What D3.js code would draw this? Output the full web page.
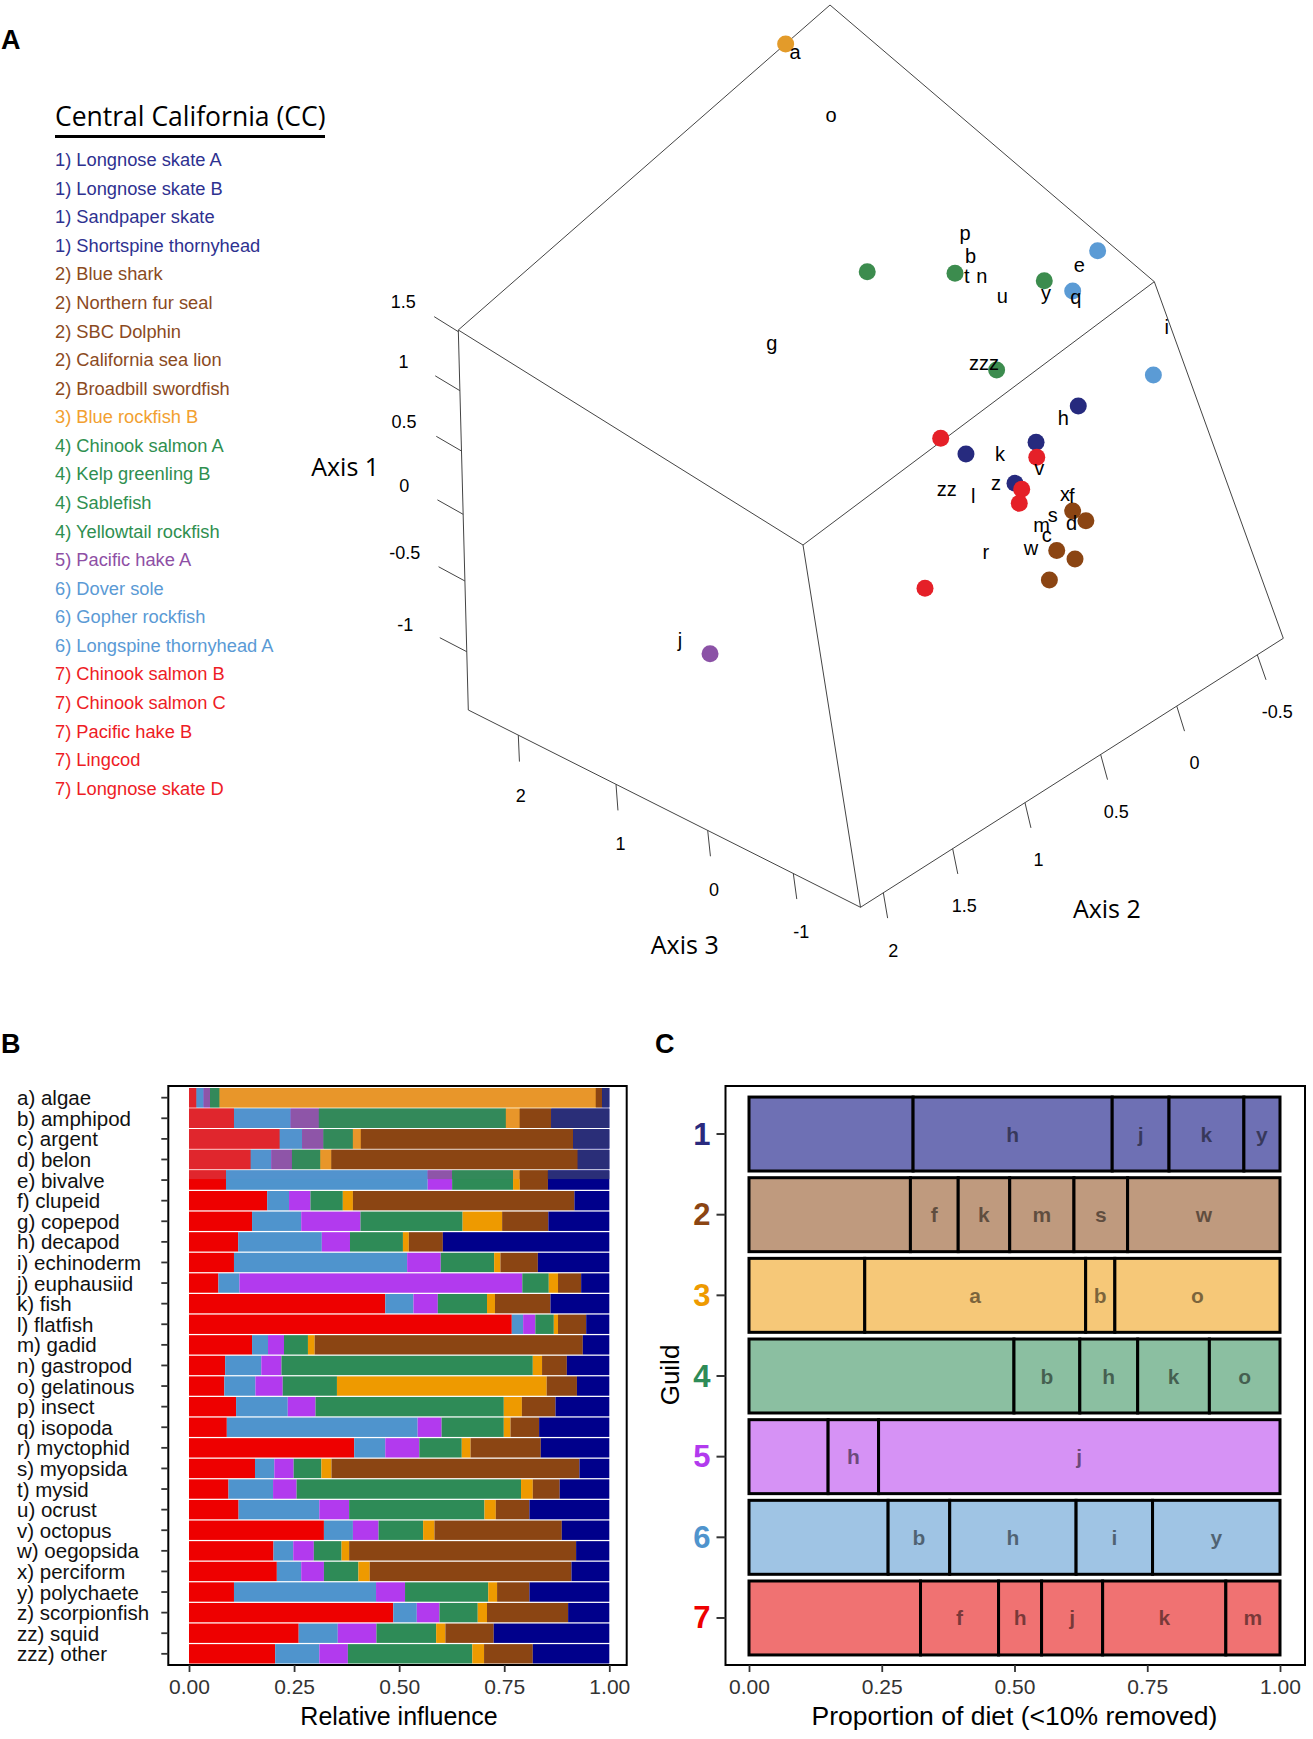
<!DOCTYPE html>
<html><head><meta charset="utf-8">
<script src="https://cdn.jsdelivr.net/npm/d3@7"></script>
<style>body{margin:0;background:#fff}svg{display:block}</style>
</head><body>
<svg id="c" width="1313" height="1739"></svg>
<script>
// ================= DATA =================
const preyCodes = ['a','b','c','d','e','f','g','h','i','j','k','l','m','n','o','p','q','r','s','t','u','v','w','x','y','z','zz','zzz'];
const preyNames = ['algae','amphipod','argent','belon','bivalve','clupeid','copepod','decapod','echinoderm','euphausiid','fish','flatfish','gadid','gastropod','gelatinous','insect','isopoda','myctophid','myopsida','mysid','ocrust','octopus','oegopsida','perciform','polychaete','scorpionfish','squid','other'];

// Panel B: relative influence of each prey, by guild (series)
const guild7Influence = [.018,.107,.216,.147,.088,.186,.150,.117,.107,.070,.467,.768,.150,.086,.084,.112,.090,.393,.157,.094,.118,.321,.201,.209,.107,.486,.261,.205];
const guild6Influence = [.017,.135,.053,.049,.480,.052,.117,.199,.412,.050,.067,.027,.038,.086,.074,.123,.454,.074,.046,.106,.192,.069,.047,.058,.338,.056,.093,.105];
const guild5Influence = [.015,.067,.051,.049,.058,.051,.141,.067,.080,.673,.058,.029,.038,.048,.065,.066,.057,.081,.046,.056,.071,.061,.049,.054,.069,.054,.092,.068];
const guild4Influence = [.023,.445,.070,.068,.145,.077,.243,.126,.127,.063,.117,.044,.057,.598,.129,.448,.148,.101,.066,.534,.322,.106,.066,.082,.198,.091,.142,.296];
const guild3Influence = [.895,.033,.019,.026,.016,.024,.094,.014,.015,.022,.019,.010,.016,.022,.499,.043,.016,.021,.024,.028,.027,.027,.018,.027,.021,.022,.022,.028];
const guild2Influence = [.015,.075,.505,.586,.067,.527,.110,.081,.089,.055,.132,.067,.638,.059,.072,.080,.068,.167,.590,.064,.080,.303,.540,.480,.077,.193,.115,.116];
const guild1Influence = [.017,.138,.086,.075,.146,.083,.145,.396,.170,.067,.140,.055,.063,.101,.077,.128,.167,.163,.071,.118,.190,.113,.079,.090,.190,.098,.275,.182];
const mutedShare = [1,1,1,1,.45,0,0,0,0,0,0,0,0,0,0,0,0,0,0,0,0,0,0,0,0,0,0,0];
const bTicks = [0,.25,.5,.75,1];

// Panel C: proportion of diet per guild
const guildIds = [1,2,3,4,5,6,7];
const guildSegLabels = [['','h','j','k','y'],['','f','k','m','s','w'],['','a','b','o'],['','b','h','k','o'],['','h','j'],['','b','h','i','y'],['','f','h','j','k','m']];
const guildSegProps  = [[.309,.375,.107,.141,.068],[.304,.090,.097,.121,.101,.287],[.218,.416,.055,.311],[.499,.124,.109,.135,.133],[.149,.095,.756],[.262,.116,.238,.144,.240],[.323,.147,.081,.115,.232,.102]];

// Panel A: predators (ordination scores on axes 1-3)
const predatorNames = ['1) Longnose skate A','1) Longnose skate B','1) Sandpaper skate','1) Shortspine thornyhead','2) Blue shark','2) Northern fur seal','2) SBC Dolphin','2) California sea lion','2) Broadbill swordfish','3) Blue rockfish B','4) Chinook salmon A','4) Kelp greenling B','4) Sablefish','4) Yellowtail rockfish','5) Pacific hake A','6) Dover sole','6) Gopher rockfish','6) Longspine thornyhead A','7) Chinook salmon B','7) Chinook salmon C','7) Pacific hake B','7) Lingcod','7) Longnose skate D'];
const predatorGuild = [1,1,1,1,2,2,2,2,2,3,4,4,4,4,5,6,6,6,7,7,7,7,7];
const predAxis1 = [0.198,-0.126,-0.149,-0.353,-0.566,-0.652,-0.681,-0.749,-0.739,1.513,0.464,0.603,0.960,0.292,-0.714,1.408,1.030,0.602,-0.034,-0.284,-0.390,-0.438,-0.494];
const predAxis2 = [-0.315,0.142,-0.160,0.001,-0.161,-0.202,0.017,-0.038,0.156,-0.348,-0.089,-0.316,-0.454,-0.159,1.654,-0.620,-0.484,-0.561,0.200,-0.157,-0.011,0.041,0.752];
const predAxis3 = [-0.731,0.002,-0.319,-0.273,-0.594,-0.639,-0.685,-0.777,-0.823,2.490,1.388,0.686,-0.365,0.002,0.643,-1.006,-0.731,-1.497,0.173,-0.273,-0.319,-0.365,-0.456];
// prey scores (labels a..zzz)
const preyAxis1 = [1.437,0.753,-0.602,-0.603,1.219,-0.532,0.463,0.083,1.091,-0.740,-0.222,-0.306,-0.550,0.700,1.110,0.871,1.005,-0.503,-0.535,0.670,0.707,-0.368,-0.617,-0.522,0.903,-0.292,-0.200,0.261];
const preyAxis2 = [-0.379,-0.385,0.016,-0.122,-0.556,-0.210,0.562,-0.256,-0.651,1.656,-0.023,0.230,0.013,-0.357,-0.368,-0.418,-0.477,0.359,-0.063,-0.317,-0.336,-0.154,0.127,-0.192,-0.429,0.094,0.342,-0.161];
const preyAxis3 = [2.452,0.558,-0.594,-0.639,-0.777,-0.502,1.428,-0.594,-1.791,0.985,-0.090,-0.181,-0.548,0.387,2.106,0.643,-0.777,-0.502,-0.548,0.515,0.087,-0.273,-0.594,-0.456,-0.410,-0.227,-0.090,0.173];
const axis1Ticks=[-1,-0.5,0,0.5,1,1.5], axis2Ticks=[2,1.5,1,0.5,0,-0.5], axis3Ticks=[2,1,0,-1];

// ================= STYLE =================
const FONT="'Liberation Sans', Arial, Helvetica, sans-serif";
const TF="'Open Sans', 'DejaVu Sans', sans-serif";
const barColors = {g7:'#EE0000',g6:'#4F94CD',g5:'#B23AEE',g4:'#2E8B57',g3:'#EE9A00',g2:'#8B4513',g1:'#00008B'};
const mutedColors = {g7:'#E0262D',g6:'#5293CE',g5:'#8E55A8',g4:'#33895A',g3:'#E8962A',g2:'#8B4513',g1:'#2A2E78'};
const guildLight = {1:'#6E70B4',2:'#BF9A7E',3:'#F6C878',4:'#8BBFA1',5:'#D692F5',6:'#9FC4E4',7:'#F07272'};
const guildDark = {1:'#2A2A7E',2:'#8B4513',3:'#EE9A00',4:'#2E8B57',5:'#B23AEE',6:'#4F94CD',7:'#EE0000'};
const legendColor = {1:'#2E3190',2:'#8B4A1E',3:'#F2A030',4:'#2F8F50',5:'#8E4FA5',6:'#5A9AD5',7:'#EE1C25'};
const pointColor = {1:'#262A7E',2:'#8B4513',3:'#E39B2A',4:'#3C8C4E',5:'#8B52A6',6:'#5B9BD5',7:'#E52028'};

const svg=d3.select('#c');
svg.append('rect').attr('width',1313).attr('height',1739).attr('fill','#fff');
function panelLetter(t,x,y){svg.append('text').text(t).attr('x',x).attr('y',y).attr('font-family',FONT).attr('font-weight','bold').attr('font-size',27);}
panelLetter('A',1,49); panelLetter('B',1,1053); panelLetter('C',655,1053);

// ================= PANEL B =================
const keys=['g7','g6','g5','g4','g3','g2','g1'];
const seriesB={g7:guild7Influence,g6:guild6Influence,g5:guild5Influence,g4:guild4Influence,g3:guild3Influence,g2:guild2Influence,g1:guild1Influence};
const tableB=preyCodes.map((c,i)=>{const o={code:c,muted:mutedShare[i]};keys.forEach(k=>o[k]=seriesB[k][i]);return o;});
const stacked=d3.stack().keys(keys).offset(d3.stackOffsetExpand)(tableB);
const xB=d3.scaleLinear().domain([0,1]).range([189,609.3]);
const yB=d3.scaleBand().domain(preyCodes).range([1088,1663.5]).paddingInner(0.06);
const gB=svg.append('g');
stacked.forEach(s=>{
  gB.selectAll(null).data(s).enter().append('rect')
    .attr('x',d=>xB(d[0])).attr('width',d=>xB(d[1])-xB(d[0]))
    .attr('y',d=>yB(d.data.code)).attr('height',yB.bandwidth()).attr('fill',barColors[s.key]);
  gB.selectAll(null).data(s.filter(d=>d.data.muted>0)).enter().append('rect')
    .attr('x',d=>xB(d[0])).attr('width',d=>xB(d[1])-xB(d[0]))
    .attr('y',d=>yB(d.data.code)).attr('height',d=>yB.bandwidth()*d.data.muted).attr('fill',mutedColors[s.key]);
});
svg.append('rect').attr('x',168.3).attr('y',1086).attr('width',458.4).attr('height',579).attr('fill','none').attr('stroke','#000').attr('stroke-width',2);
svg.append('g').attr('transform','translate(168.3,0)').call(d3.axisLeft(yB).tickSize(7).tickFormat(''))
  .call(g=>{g.select('.domain').remove();g.selectAll('line').attr('stroke','#333').attr('stroke-width',1.8);});
svg.append('g').selectAll('text').data(preyCodes).enter().append('text')
  .attr('x',17).attr('y',d=>yB(d)+yB.bandwidth()/2).attr('dominant-baseline','central')
  .attr('font-family',FONT).attr('font-size',20.5).attr('fill','#111')
  .text((d,i)=>d+') '+preyNames[i]);
const axB=svg.append('g').attr('transform','translate(0,1665)').call(d3.axisBottom(xB).tickValues(bTicks).tickSize(7).tickFormat(d3.format('.2f')));
axB.select('.domain').remove();
axB.selectAll('line').attr('stroke','#333').attr('stroke-width',1.8);
axB.selectAll('text').attr('font-family',FONT).attr('font-size',21).attr('fill','#333').attr('dy',null).attr('y',21).attr('dominant-baseline','central');
svg.append('text').text('Relative influence').attr('x',399).attr('y',1716).attr('text-anchor','middle').attr('dominant-baseline','central').attr('font-family',FONT).attr('font-size',25);

// ================= PANEL C =================
const xC=d3.scaleLinear().domain([0,1]).range([749,1280]);
const yC=d3.scaleBand().domain(guildIds).range([1093.7,1658.3]).paddingInner(0.083).paddingOuter(0.0415);
const segs=[];
guildIds.forEach((g,gi)=>{let c=0;guildSegProps[gi].forEach((p,j)=>{segs.push({g,start:c,end:c+p,label:guildSegLabels[gi][j]});c+=p;});});
const gC=svg.append('g');
gC.selectAll('rect').data(segs).enter().append('rect')
  .attr('x',d=>xC(d.start)).attr('width',d=>xC(d.end)-xC(d.start))
  .attr('y',d=>yC(d.g)).attr('height',yC.bandwidth())
  .attr('fill',d=>guildLight[d.g]).attr('stroke','#000').attr('stroke-width',3);
gC.selectAll('text').data(segs.filter(d=>d.label)).enter().append('text')
  .attr('x',d=>xC((d.start+d.end)/2)).attr('y',d=>yC(d.g)+yC.bandwidth()/2).attr('dominant-baseline','central')
  .attr('text-anchor','middle').attr('font-family',FONT).attr('font-weight','bold').attr('font-size',21)
  .attr('fill','#000').attr('fill-opacity',0.5).text(d=>d.label);
svg.append('rect').attr('x',725.5).attr('y',1086).attr('width',579.5).attr('height',579).attr('fill','none').attr('stroke','#000').attr('stroke-width',2);
const ayC=svg.append('g').attr('transform','translate(725.5,0)').call(d3.axisLeft(yC).tickSize(9).tickPadding(6));
ayC.select('.domain').remove();
ayC.selectAll('line').attr('stroke','#333').attr('stroke-width',2);
ayC.selectAll('text').attr('font-family',FONT).attr('font-weight','bold').attr('font-size',31).attr('fill',d=>guildDark[d]).attr('dy',null).attr('dominant-baseline','central');
const axC=svg.append('g').attr('transform','translate(0,1665)').call(d3.axisBottom(xC).tickValues(bTicks).tickSize(7).tickFormat(d3.format('.2f')));
axC.select('.domain').remove();
axC.selectAll('line').attr('stroke','#333').attr('stroke-width',1.8);
axC.selectAll('text').attr('font-family',FONT).attr('font-size',21).attr('fill','#333').attr('dy',null).attr('y',21).attr('dominant-baseline','central');
svg.append('text').text('Proportion of diet (<10% removed)').attr('x',1014.5).attr('y',1716).attr('text-anchor','middle').attr('dominant-baseline','central').attr('font-family',FONT).attr('font-size',26.5);
svg.append('text').text('Guild').attr('transform','translate(670,1375) rotate(-90)').attr('text-anchor','middle').attr('dominant-baseline','central').attr('font-family',FONT).attr('font-size',26);

// ================= PANEL A =================
// perspective box layout: screen anchors of the 8 cube corners (index = u1 u2 u3)
const corners={'000':[860.5,907.3],'001':[468.3,710],'010':[1283.3,638.3],'011':[912,378],'100':[803,545],'101':[458.3,330],'110':[1154.3,281.7],'111':[830,5]};
function P(u1,u2,u3){let x=0,y=0;for(const a of [0,1])for(const b of [0,1])for(const c of [0,1]){const w=(a?u1:1-u1)*(b?u2:1-u2)*(c?u3:1-u3);const p=corners[''+a+b+c];x+=w*p[0];y+=w*p[1];}return [x,y];}
// axis scales (polylinear to follow the perspective foreshortening)
const s1=d3.scaleLinear().domain([-1.39,-1,-0.5,0,0.5,1,1.5,1.515]).range([0,.1534,.3395,.515,.6816,.8403,.9955,1]);
const s2=d3.scaleLinear().domain([2.165,2,1.5,1,0.5,0,-0.5,-0.66]).range([0,.054,.218,.389,.568,.748,.9385,1]);
const s3=d3.scaleLinear().domain([-1.84,-1,0,1,2,2.49]).range([0,.1713,.3896,.6234,.8725,1]);
const proj=d=>P(s1(d[0]),s2(d[1]),s3(d[2]));

const predXYZ=predAxis1.map((v,i)=>[v,predAxis2[i],predAxis3[i]]);
const preyXYZ=preyAxis1.map((v,i)=>[v,preyAxis2[i],preyAxis3[i]]);

const gA=svg.append('g');
const boxEdges=[['111','101'],['111','110'],['101','100'],['110','100'],['101','001'],['100','000'],['110','010'],['001','000'],['000','010']];
const line=d3.line();
gA.selectAll('path.edge').data(boxEdges).enter().append('path').attr('class','edge')
  .attr('d',e=>line([corners[e[0]],corners[e[1]]])).attr('stroke','#444').attr('stroke-width',1).attr('fill','none');
function tickGroup(vals,fn,dy){
  vals.forEach(v=>{
    const a=fn(v,0),b=fn(v,0.07),c=fn(v,0.16);
    gA.append('path').attr('d',line([a,b])).attr('stroke','#444').attr('stroke-width',1);
    gA.append('text').text(String(v)).attr('x',c[0]).attr('y',c[1]+dy).attr('text-anchor','middle').attr('dominant-baseline','central').attr('font-family',FONT).attr('font-size',18);
  });
}
tickGroup(axis1Ticks,(v,d)=>P(s1(v),0,1+d),5);
tickGroup(axis3Ticks,(v,d)=>P(-d,0,s3(v)),0);
tickGroup(axis2Ticks,(v,d)=>P(-d,s2(v),0),0);
[['Axis 1',P(.46,0,1.32),-3],['Axis 3',P(-.36,0,.48),-2],['Axis 2',P(-.375,.5,0),0]].forEach(([t,p,dy])=>{
  gA.append('text').text(t).attr('x',p[0]).attr('y',p[1]+dy).attr('text-anchor','middle').attr('dominant-baseline','central').attr('font-family',TF).attr('font-size',25);
});
gA.selectAll('circle').data(predXYZ).enter().append('circle')
  .attr('cx',d=>proj(d)[0]).attr('cy',d=>proj(d)[1]).attr('r',8.5).attr('fill',(d,i)=>pointColor[predatorGuild[i]]);
gA.selectAll('text.prey').data(preyXYZ).enter().append('text').attr('class','prey')
  .attr('x',d=>proj(d)[0]).attr('y',d=>proj(d)[1]).attr('text-anchor','middle').attr('dominant-baseline','central')
  .attr('font-family',FONT).attr('font-size',20).text((d,i)=>preyCodes[i]);

// legend
svg.append('text').text('Central California (CC)').attr('x',55).attr('y',116).attr('dominant-baseline','central').attr('font-family',TF).attr('font-size',26.5);
svg.append('line').attr('x1',55).attr('x2',325).attr('y1',136.5).attr('y2',136.5).attr('stroke','#000').attr('stroke-width',3);
svg.append('g').selectAll('text').data(predatorNames).enter().append('text')
  .attr('x',55).attr('y',(d,i)=>159.7+i*28.57).attr('dominant-baseline','central')
  .attr('font-family',FONT).attr('font-size',18.3).attr('fill',(d,i)=>legendColor[predatorGuild[i]]).text(d=>d);
</script>
</body></html>
